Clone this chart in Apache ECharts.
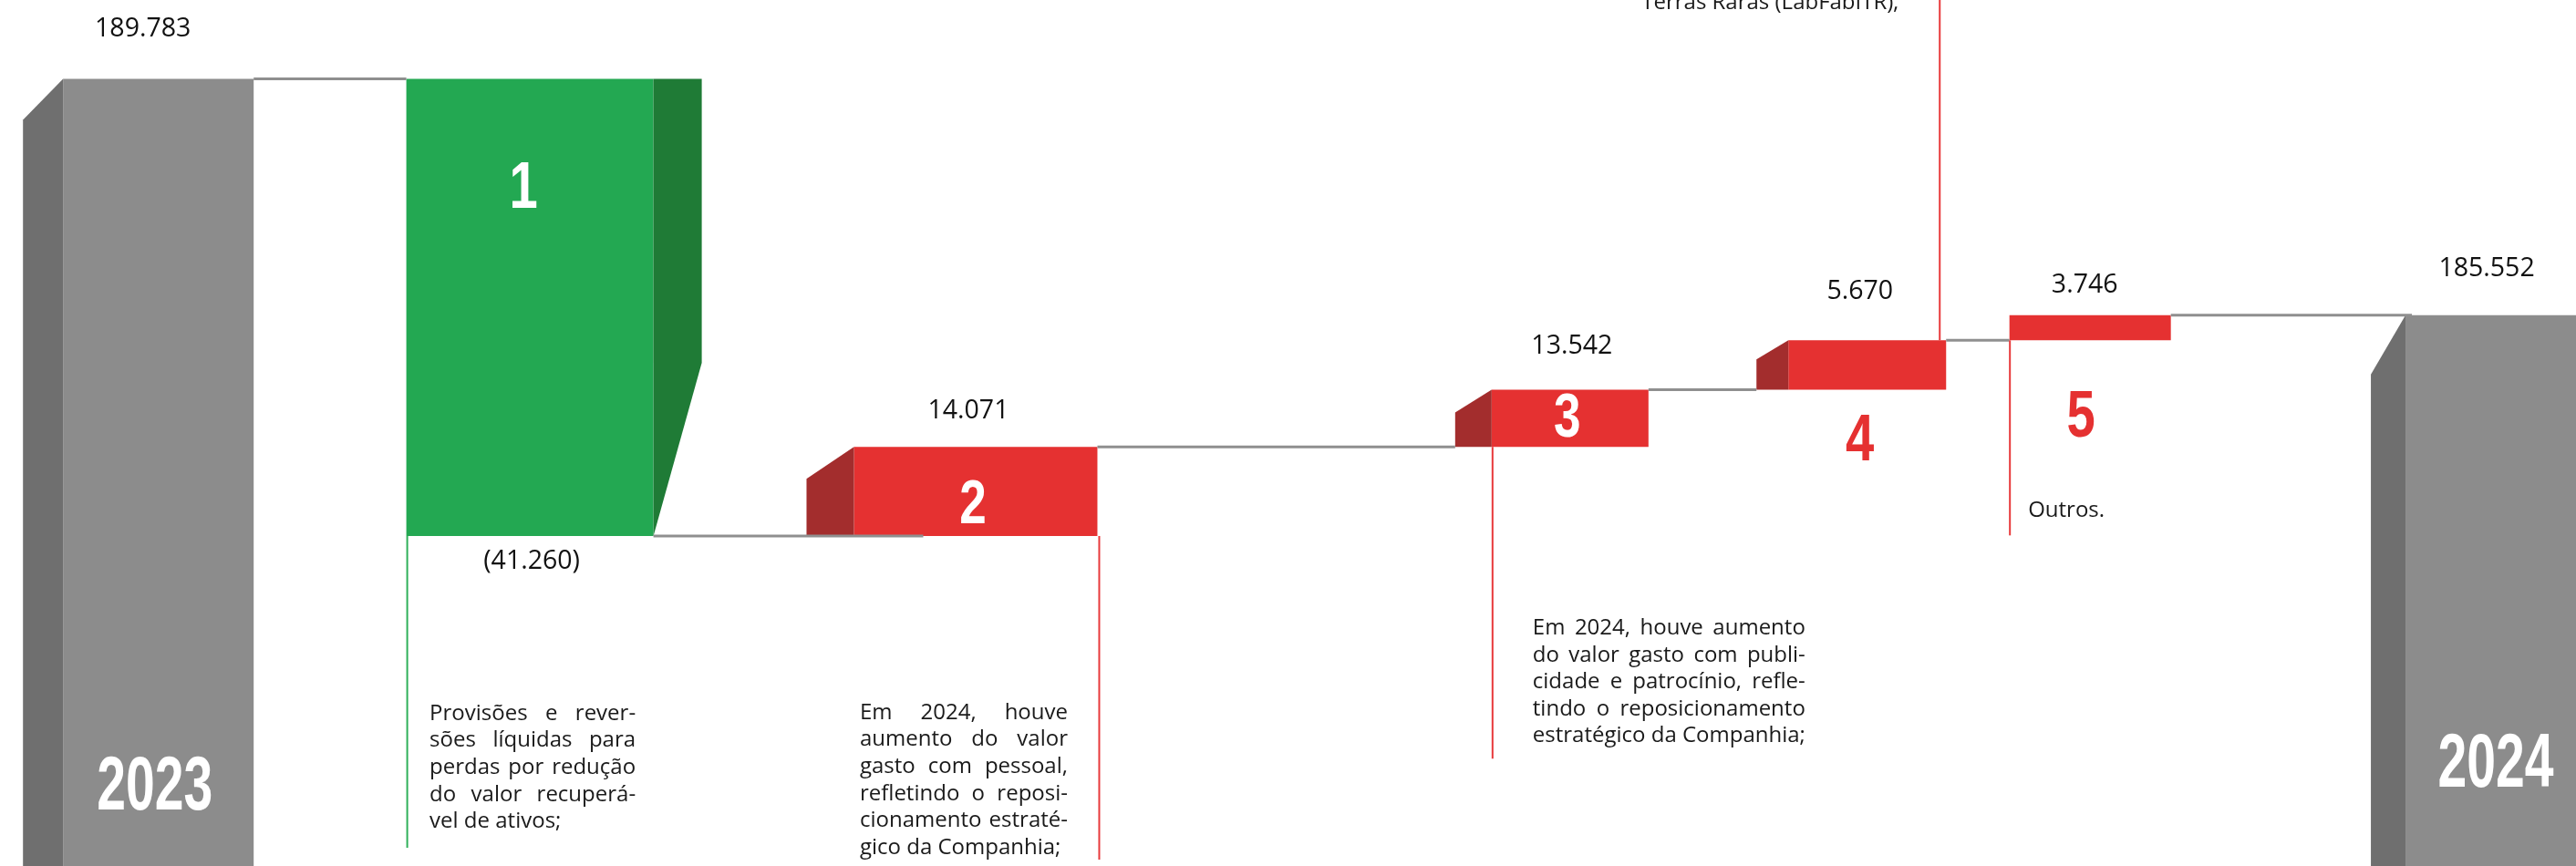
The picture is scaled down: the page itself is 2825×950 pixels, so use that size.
<!DOCTYPE html>
<html>
<head>
<meta charset="utf-8">
<script src="https://cdn.jsdelivr.net/npm/echarts@6/dist/echarts.min.js"></script>
<style>
html, body { margin: 0; padding: 0; background: #ffffff; }
#chart { width: 2825px; height: 950px; }
</style>
</head>
<body>
<div id="chart"></div>
<script>
// ---------------- DATA ----------------
const categories = ['2023', '1', '2', '3', '4', '5', '2024'];
const valueLabels = ['189.783', '(41.260)', '14.071', '13.542', '5.670', '3.746', '185.552'];
// The reference is a schematic waterfall (not drawn to scale): levels below are read off the picture
const drawnStart = 190.9;                       // 2023 total, as drawn
const drawnSteps = [-52.8, 10.3, 6.6, 5.7, 2.9]; // steps 1..5, as drawn
const notes = [
  null,
  ['Provisões e rever-', 'sões líquidas para', 'perdas por redução', 'do valor recuperá-', 'vel de ativos;'],
  ['Em 2024, houve', 'aumento do valor', 'gasto com pessoal,', 'refletindo o reposi-', 'cionamento estraté-', 'gico da Companhia;'],
  ['Em 2024, houve aumento', 'do valor gasto com publi-', 'cidade e patrocínio, refle-', 'tindo o reposicionamento', 'estratégico da Companhia;'],
  ['Terras Raras (LabFabITR);'],
  ['Outros.'],
  null
];

// ---------------- LAYOUT / STYLE ----------------
const Y_MIN = 100, Y_MAX = 200;
const SLOT_COUNT = 36;                     // horizontal slots of the category axis
const barSlot = [2, 7, 13, 21, 25, 28, 34]; // slot used by each bar (irregular spacing of the original)

const GRAY = '#8c8c8c', GRAY_D = '#6f6f6f';
const GREEN = '#23a852', GREEN_D = '#1f7b36';
const RED = '#e53131', RED_D = '#a32d2d';
const LINK = '#8f8f8f', NOTE_RED = '#e8393b', NOTE_GREEN = '#2fb059';

const barStyle = [
  { front: GRAY,  side: GRAY_D,  width: 209, sideAt: 'left',  sideW: 44, drop: 45, rise: 0 },
  { front: GREEN, side: GREEN_D, width: 271, sideAt: 'right', sideW: 53, drop: 0,  rise: 190 },
  { front: RED,   side: RED_D,   width: 267, sideAt: 'left',  sideW: 52, drop: 35, rise: 0 },
  { front: RED,   side: RED_D,   width: 172, sideAt: 'left',  sideW: 40, drop: 25, rise: 0 },
  { front: RED,   side: RED_D,   width: 173, sideAt: 'left',  sideW: 35, drop: 21, rise: 0 },
  { front: RED,   side: RED_D,   width: 177, sideAt: null },
  { front: GRAY,  side: GRAY_D,  width: 286, sideAt: 'left',  sideW: 38, drop: 65, rise: 0 }
];
const connectorReach = [0, 76, -40, -35, 0, 7];
const valuePos = [
  { from: 'top', dx: -17, dy: -55 }, { from: 'bottom', dx: 2, dy: 28 },
  { from: 'top', dx: -8, dy: -39 },  { from: 'top', dx: 2, dy: -48 },
  { from: 'top', dx: -8, dy: -53 },  { from: 'top', dx: -6, dy: -33 },
  { from: 'top', dx: -54, dy: -51 }
];
const tagPos = [
  { from: 'bottom', dx: -4, dy: -85, size: 84, color: '#ffffff', sx: 0.68 },
  { from: 'top', dx: -7, dy: 122, size: 72, color: '#ffffff', sx: 0.78 },
  { from: 'bottom', dx: -3, dy: -33, size: 68, color: '#ffffff', sx: 0.78 },
  { from: 'top', dx: -3, dy: 32.5, size: 68, color: '#ffffff', sx: 0.78 },
  { from: 'bottom', dx: -8, dy: 57.5, size: 72, color: RED, sx: 0.78 },
  { from: 'bottom', dx: -10, dy: 85.6, size: 72, color: RED, sx: 0.78 },
  { from: 'bottom', dx: -44, dy: -110, size: 84, color: '#ffffff', sx: 0.68 }
];
const noteLine = [
  null,
  { at: 'left', dx: 1, from: 'bottom', len: 342, color: NOTE_GREEN },
  { at: 'right', dx: 2, from: 'bottom', len: 355, color: NOTE_RED },
  { at: 'left', dx: 1, from: 'bottom', len: 342, color: NOTE_RED },
  { at: 'right', dx: -7, from: 'top', len: -420, color: NOTE_RED },
  { at: 'left', dx: 0.5, from: 'bottom', len: 214, color: NOTE_RED },
  null
];
const noteBox = [
  null,
  { dx: 25.5, from: 'bottom', dy: 195, width: 226 },
  { dx: 6.5, from: 'bottom', dy: 194, width: 228 },
  { dx: 45, from: 'bottom', dy: 199, width: 299 },
  { dx: -161, from: 'top', dy: -370, width: 0 },
  { dx: 20.5, from: 'bottom', dy: 187, width: 0 }, 
  null
];
const TEXT_FONT = '"Open Sans", "DejaVu Sans", sans-serif';
const TAG_FONT = '"Liberation Sans", Arial, sans-serif';
const NOTE_SIZE = 24, NOTE_LINE_H = 29.6, VALUE_SIZE = 28.5;

// ---------------- BUILD ----------------
const slotCategories = Array.from({ length: SLOT_COUNT }, () => '');
barSlot.forEach((s, i) => { slotCategories[s] = categories[i]; });

const endLevels = [];
let run = drawnStart;
const barData = categories.map((c, i) => {
  if (i === 0) { endLevels.push(drawnStart); return [barSlot[i], Y_MIN, drawnStart, i]; }
  if (i === categories.length - 1) { endLevels.push(run); return [barSlot[i], Y_MIN, run, i]; }
  const prev = run;
  run = Math.round((run + drawnSteps[i - 1]) * 100) / 100;
  endLevels.push(run);
  return [barSlot[i], Math.min(prev, run), Math.max(prev, run), i];
});

const measureCtx = document.createElement('canvas').getContext('2d');

function textEl(text, x, y, o) {
  return {
    type: 'text', x: x, y: y, scaleX: o.sx || 1, z2: 20,
    style: {
      text: text, x: 0, y: 0, fill: o.color || '#111111',
      fontSize: o.size, fontFamily: o.family, fontWeight: o.weight || 'normal',
      align: o.align || 'center', verticalAlign: 'middle',
      textAlign: o.align || 'center', textVerticalAlign: 'middle'
    }
  };
}

function noteEls(lines, left, firstY, width) {
  const els = [];
  measureCtx.font = NOTE_SIZE + 'px ' + TEXT_FONT;
  lines.forEach((line, li) => {
    const y = firstY + li * NOTE_LINE_H;
    const words = line.split(' ');
    const isLast = li === lines.length - 1;
    const o = { size: NOTE_SIZE, family: TEXT_FONT, align: 'left', color: '#1a1a1a' };
    if (isLast || words.length === 1 || !width) { els.push(textEl(line, left, y, o)); return; }
    const widths = words.map(w => measureCtx.measureText(w).width);
    const total = widths.reduce((a, b) => a + b, 0);
    const gap = (width - total) / (words.length - 1);
    let x = left;
    words.forEach((w, wi) => { els.push(textEl(w, x, y, o)); x += widths[wi] + gap; });
  });
  return els;
}

function renderItem(params, api) {
  const i = api.value(3);
  const st = barStyle[i];
  const pt = api.coord([api.value(0), api.value(2)]);
  const pb = api.coord([api.value(0), api.value(1)]);
  const cx = pt[0], top = pt[1], bot = pb[1];
  const L = cx - st.width / 2, R = cx + st.width / 2;
  const ch = [];
  ch.push({ type: 'rect', z2: 1, shape: { x: L, y: top, width: st.width, height: bot - top }, style: { fill: st.front } });
  if (st.sideAt) {
    let pts;
    if (st.sideAt === 'left') {
      const xo = L - st.sideW;
      pts = [[L, top], [L, bot], [xo, bot - st.rise], [xo, top + st.drop]];
    } else {
      const xo = R + st.sideW;
      pts = [[R, top], [xo, top + st.drop], [xo, bot - st.rise], [R, bot]];
    }
    ch.push({ type: 'polygon', z2: 1, shape: { points: pts }, style: { fill: st.side } });
  }
  if (i < categories.length - 1) {
    const y = api.coord([0, endLevels[i]])[1];
    const nx = api.coord([barSlot[i + 1], Y_MIN])[0] - barStyle[i + 1].width / 2 + connectorReach[i];
    ch.push({ type: 'line', z2: 5, shape: { x1: R, y1: y, x2: nx, y2: y }, style: { stroke: LINK, lineWidth: 3 } });
  }
  const nl = noteLine[i];
  if (nl) {
    const x = (nl.at === 'left' ? L : R) + nl.dx;
    const y0 = nl.from === 'top' ? top : bot;
    ch.push({ type: 'line', z2: 6, shape: { x1: x, y1: y0, x2: x, y2: y0 + nl.len }, style: { stroke: nl.color, lineWidth: 2 } });
  }
  const vp = valuePos[i];
  ch.push(textEl(valueLabels[i], cx + vp.dx, (vp.from === 'top' ? top : bot) + vp.dy,
    { size: VALUE_SIZE, family: TEXT_FONT, color: '#111111' }));
  const tp = tagPos[i];
  ch.push(textEl(categories[i], cx + tp.dx, (tp.from === 'top' ? top : bot) + tp.dy,
    { size: tp.size, family: TAG_FONT, weight: 'bold', color: tp.color, sx: tp.sx }));
  if (notes[i]) {
    const nb = noteBox[i];
    noteEls(notes[i], L + nb.dx, (nb.from === 'top' ? top : bot) + nb.dy, nb.width).forEach(e => ch.push(e));
  }
  return { type: 'group', children: ch };
}

const chart = echarts.init(document.getElementById('chart'), null, { renderer: 'canvas' });
chart.setOption({
  animation: false,
  backgroundColor: '#ffffff',
  grid: { left: -30, top: 0, width: SLOT_COUNT * 81.48, height: 950, outerBoundsMode: 'none', containLabel: false },
  xAxis: { type: 'category', data: slotCategories, show: false, boundaryGap: true },
  yAxis: { type: 'value', min: Y_MIN, max: Y_MAX, show: false },
  series: [{
    type: 'custom',
    renderItem: renderItem,
    data: barData,
    clip: false,
    encode: { x: 0, y: [1, 2] }
  }]
});
</script>
</body>
</html>
